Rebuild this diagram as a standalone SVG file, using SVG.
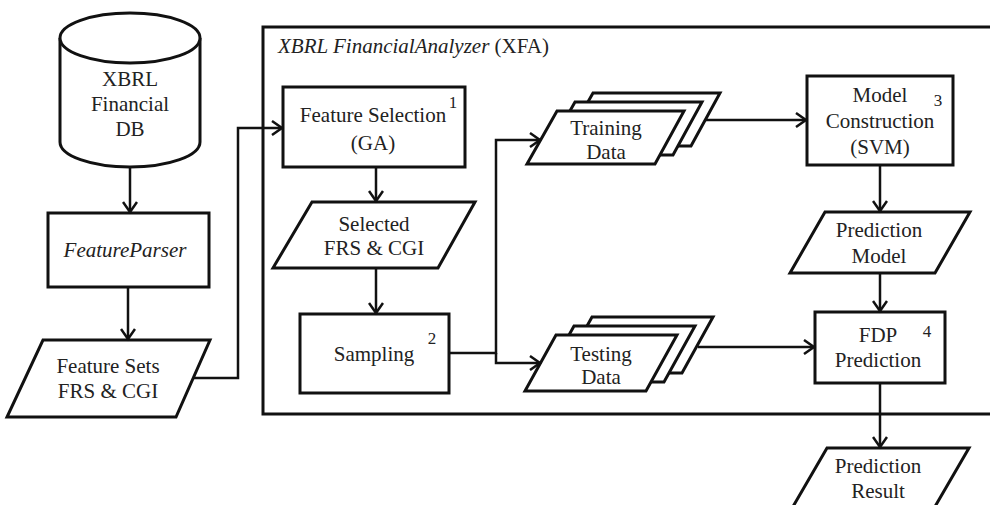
<svg xmlns="http://www.w3.org/2000/svg" width="990" height="505" viewBox="0 0 990 505">
<defs>
<style>
.s{fill:#fff;stroke:#111;stroke-width:3;stroke-linejoin:miter}
.c{fill:none;stroke:#111;stroke-width:2.5}
text{font-family:'Liberation Serif','Tinos','DejaVu Serif',serif;font-size:21px;fill:#222;text-anchor:middle}
.i{font-style:italic}
.n{font-size:17px}
</style>
<marker id="arr" markerWidth="16" markerHeight="16" refX="12" refY="8" orient="auto" markerUnits="userSpaceOnUse">
<path d="M2,1 L12,8 L2,15" fill="none" stroke="#111" stroke-width="2.5"/>
</marker>
</defs>
<rect width="990" height="505" fill="#fff"/>

<g id="xfa">
<rect x="263" y="27" width="760" height="387" fill="none" stroke="#111" stroke-width="3"/>
<text x="278" y="53" style="text-anchor:start"><tspan class="i">XBRL FinancialAnalyzer</tspan> (XFA)</text>
</g>

<g id="db">
<path class="s" d="M60,38 L60,142 A70,25 0 0 0 200,142 L200,38"/>
<ellipse class="s" cx="130" cy="38" rx="70" ry="25"/>
<text x="130" y="86">XBRL</text>
<text x="130" y="111">Financial</text>
<text x="130" y="136">DB</text>
</g>

<g id="featureparser">
<rect class="s" x="48" y="213" width="161" height="74"/>
<text class="i" x="125" y="257">FeatureParser</text>
</g>

<g id="featuresets">
<polygon class="s" points="43,340 210,340 176,417 7,417"/>
<text x="108" y="373">Feature Sets</text>
<text x="108" y="398">FRS &amp; CGI</text>
</g>

<g id="featureselection">
<rect class="s" x="283" y="87" width="182" height="80"/>
<text x="373" y="122">Feature Selection</text>
<text x="373" y="150">(GA)</text>
<text class="n" x="453" y="108">1</text>
</g>

<g id="selected">
<polygon class="s" points="312,202 475,202 438,268 273,268"/>
<text x="374" y="231">Selected</text>
<text x="374" y="255">FRS &amp; CGI</text>
</g>

<g id="sampling">
<rect class="s" x="300" y="314" width="149" height="79"/>
<text x="374" y="361">Sampling</text>
<text class="n" x="432" y="344">2</text>
</g>

<g id="training">
<polygon class="s" points="593,93 720,93 691,146 563,146"/>
<polygon class="s" points="575,102 702,102 673,155 545,155"/>
<polygon class="s" points="557,111 684,111 655,164 527,164"/>
<text x="606" y="135">Training</text>
<text x="606" y="159">Data</text>
</g>

<g id="testing">
<polygon class="s" points="592,317 713,317 682,373 561,373"/>
<polygon class="s" points="574,326 695,326 664,382 543,382"/>
<polygon class="s" points="556,335 677,335 646,391 525,391"/>
<text x="601" y="361">Testing</text>
<text x="601" y="384">Data</text>
</g>

<g id="modelconstruction">
<rect class="s" x="807" y="76" width="146" height="89"/>
<text x="880" y="102">Model</text>
<text x="880" y="128">Construction</text>
<text x="880" y="154">(SVM)</text>
<text class="n" x="938" y="106">3</text>
</g>

<g id="predictionmodel">
<polygon class="s" points="825,212 970,212 935,273 790,273"/>
<text x="879" y="237">Prediction</text>
<text x="879" y="263">Model</text>
</g>

<g id="fdp">
<rect class="s" x="815" y="312" width="130" height="71"/>
<text x="878" y="342">FDP</text>
<text x="878" y="367">Prediction</text>
<text class="n" x="927" y="337">4</text>
</g>

<g id="predictionresult">
<polygon class="s" points="827,448 969,448 933,510 791,510"/>
<text x="878" y="473">Prediction</text>
<text x="878" y="498">Result</text>
</g>

<g id="connectors">
<path class="c" d="M130,167 L130,212" marker-end="url(#arr)"/>
<path class="c" d="M128,287 L128,339" marker-end="url(#arr)"/>
<path class="c" d="M194,378 L238,378 L238,128 L282,128" marker-end="url(#arr)"/>
<path class="c" d="M376,167 L376,201" marker-end="url(#arr)"/>
<path class="c" d="M376,268 L376,313" marker-end="url(#arr)"/>
<path class="c" d="M449,353 L496,353 L496,140 L540,140" marker-end="url(#arr)"/>
<path class="c" d="M496,353 L496,363 L540,363" marker-end="url(#arr)"/>
<path class="c" d="M706,120 L806,120" marker-end="url(#arr)"/>
<path class="c" d="M880,165 L880,211" marker-end="url(#arr)"/>
<path class="c" d="M880,273 L880,311" marker-end="url(#arr)"/>
<path class="c" d="M698,347 L814,347" marker-end="url(#arr)"/>
<path class="c" d="M880,383 L880,447" marker-end="url(#arr)"/>
</g>
</svg>
